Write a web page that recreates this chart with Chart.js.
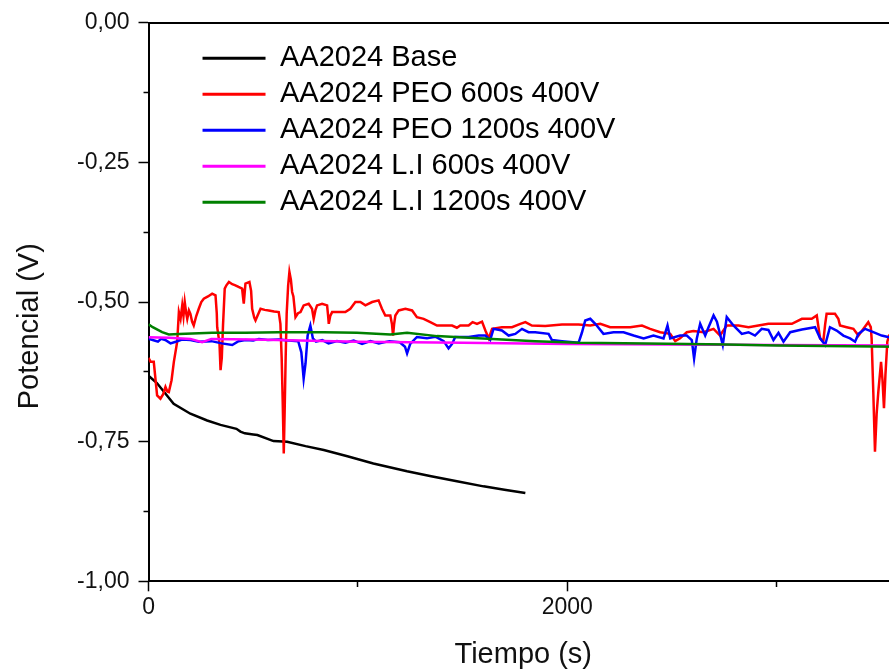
<!DOCTYPE html>
<html>
<head>
<meta charset="utf-8">
<title>Potencial vs Tiempo</title>
<script src="https://cdn.jsdelivr.net/npm/chart.js@4.4.1/dist/chart.umd.min.js"></script>
<style>
  html, body { margin: 0; padding: 0; background: #fff; overflow: hidden; }
  #wrap { position: relative; width: 898px; height: 672px; }
</style>
</head>
<body>
<div id="wrap"><canvas id="chart"></canvas></div>
<script>
// Series labels and colours (Origin default palette)
const seriesNames = [
  'AA2024 Base',
  'AA2024 PEO 600s 400V',
  'AA2024 PEO 1200s 400V',
  'AA2024 L.I 600s 400V',
  'AA2024 L.I 1200s 400V'
];
const seriesColors = ['#000000', '#ff0000', '#0000ff', '#ff00ff', '#008000'];

// Axis ranges and ticks
const xMin = 0, xMax = 3580;
const yMin = -1, yMax = 0;
const xTickValues = [0, 1000, 2000, 3000];
const xLabelStep = 2000;
const yStep = 0.125, yLabelStep = 0.25;

// AA2024 Base
const baseTime = [0, 40, 120, 200, 280, 344, 420, 439, 460, 500, 520, 597, 662, 750, 837, 950, 1074, 1235, 1350, 1473, 1600, 1700, 1800];
const baseV = [-0.632, -0.645, -0.682, -0.700, -0.712, -0.720, -0.727, -0.732, -0.735, -0.737, -0.738, -0.749, -0.750, -0.758, -0.765, -0.776, -0.789, -0.803, -0.812, -0.821, -0.830, -0.836, -0.842];

// AA2024 PEO 600s 400V
const peo600Time = [0, 10, 25, 41, 57, 70, 81, 90, 97, 110, 121, 137, 145, 153, 161, 167, 173, 180, 185, 193, 200, 208, 216, 228, 240, 252, 264, 284, 304, 320, 326, 328, 339, 344, 350, 356, 364, 372, 384, 400, 415, 430, 447, 451, 455, 459, 463, 482, 490, 495, 505, 511, 520, 535, 555, 574, 600, 622, 630, 636, 641, 646, 650, 655, 660, 667, 673, 680, 686, 692, 702, 714, 726, 741, 765, 781, 789, 797, 805, 829, 853, 858, 861, 868, 877, 900, 940, 964, 988, 1012, 1036, 1068, 1099, 1115, 1131, 1155, 1163, 1168, 1173, 1179, 1195, 1227, 1259, 1282, 1314, 1346, 1378, 1402, 1450, 1473, 1489, 1529, 1548, 1569, 1593, 1609, 1625, 1641, 1688, 1736, 1776, 1800, 1831, 1895, 1975, 2054, 2110, 2158, 2205, 2253, 2301, 2357, 2396, 2444, 2492, 2516, 2539, 2571, 2603, 2651, 2699, 2730, 2762, 2818, 2866, 2913, 2961, 3009, 3073, 3121, 3168, 3192, 3200, 3208, 3223, 3232, 3239, 3279, 3295, 3303, 3335, 3367, 3391, 3415, 3438, 3450, 3454, 3462, 3470, 3478, 3486, 3499, 3506, 3513, 3520, 3529, 3537, 3560, 3580];
const peo600V = [-0.600, -0.607, -0.607, -0.667, -0.673, -0.665, -0.652, -0.660, -0.661, -0.640, -0.607, -0.571, -0.518, -0.530, -0.506, -0.525, -0.500, -0.520, -0.530, -0.515, -0.521, -0.535, -0.542, -0.525, -0.512, -0.500, -0.494, -0.490, -0.485, -0.488, -0.520, -0.545, -0.574, -0.622, -0.600, -0.540, -0.476, -0.470, -0.464, -0.468, -0.470, -0.473, -0.476, -0.490, -0.503, -0.485, -0.467, -0.464, -0.480, -0.512, -0.528, -0.533, -0.525, -0.512, -0.514, -0.515, -0.517, -0.518, -0.539, -0.600, -0.679, -0.771, -0.700, -0.600, -0.520, -0.470, -0.446, -0.460, -0.482, -0.490, -0.527, -0.520, -0.518, -0.506, -0.503, -0.512, -0.530, -0.515, -0.506, -0.503, -0.506, -0.525, -0.539, -0.525, -0.518, -0.518, -0.518, -0.512, -0.500, -0.500, -0.506, -0.500, -0.497, -0.512, -0.524, -0.524, -0.540, -0.560, -0.540, -0.524, -0.515, -0.512, -0.515, -0.527, -0.530, -0.536, -0.542, -0.542, -0.542, -0.546, -0.542, -0.542, -0.536, -0.539, -0.535, -0.551, -0.565, -0.548, -0.545, -0.545, -0.539, -0.536, -0.542, -0.543, -0.540, -0.540, -0.542, -0.539, -0.545, -0.545, -0.545, -0.542, -0.548, -0.554, -0.557, -0.570, -0.565, -0.554, -0.552, -0.554, -0.548, -0.560, -0.542, -0.542, -0.545, -0.542, -0.539, -0.539, -0.539, -0.530, -0.530, -0.524, -0.545, -0.565, -0.571, -0.540, -0.521, -0.521, -0.530, -0.542, -0.545, -0.548, -0.560, -0.548, -0.536, -0.545, -0.565, -0.661, -0.768, -0.700, -0.661, -0.607, -0.640, -0.690, -0.630, -0.571, -0.560, -0.555, -0.555];

// AA2024 PEO 1200s 400V
const peo1200Time = [0, 20, 45, 60, 80, 105, 130, 160, 200, 240, 300, 350, 400, 430, 463, 500, 527, 570, 622, 670, 715, 730, 741, 750, 760, 773, 785, 800, 830, 860, 900, 940, 980, 1020, 1060, 1100, 1150, 1200, 1225, 1235, 1250, 1282, 1330, 1370, 1410, 1433, 1450, 1465, 1529, 1577, 1609, 1632, 1648, 1688, 1720, 1752, 1784, 1815, 1847, 1911, 1927, 1975, 2054, 2070, 2086, 2110, 2134, 2173, 2221, 2269, 2317, 2365, 2412, 2460, 2479, 2492, 2539, 2571, 2595, 2606, 2619, 2635, 2659, 2675, 2699, 2715, 2743, 2762, 2794, 2834, 2866, 2897, 2929, 2961, 2985, 3009, 3033, 3065, 3121, 3184, 3208, 3232, 3255, 3287, 3319, 3351, 3375, 3391, 3423, 3462, 3502, 3532, 3580];
const peo1200V = [-0.566, -0.568, -0.571, -0.566, -0.568, -0.574, -0.571, -0.567, -0.568, -0.571, -0.570, -0.574, -0.577, -0.570, -0.568, -0.569, -0.566, -0.568, -0.567, -0.569, -0.570, -0.590, -0.637, -0.610, -0.560, -0.542, -0.565, -0.571, -0.568, -0.574, -0.570, -0.573, -0.569, -0.575, -0.570, -0.574, -0.570, -0.572, -0.580, -0.592, -0.575, -0.5625, -0.565, -0.562, -0.570, -0.583, -0.575, -0.5625, -0.5625, -0.560, -0.560, -0.568, -0.548, -0.551, -0.560, -0.557, -0.548, -0.554, -0.554, -0.557, -0.568, -0.570, -0.573, -0.555, -0.533, -0.530, -0.539, -0.557, -0.554, -0.554, -0.560, -0.565, -0.560, -0.565, -0.542, -0.565, -0.560, -0.560, -0.568, -0.601, -0.565, -0.539, -0.560, -0.545, -0.524, -0.535, -0.577, -0.527, -0.542, -0.557, -0.554, -0.560, -0.548, -0.550, -0.568, -0.555, -0.571, -0.554, -0.549, -0.545, -0.565, -0.577, -0.545, -0.551, -0.560, -0.565, -0.571, -0.557, -0.548, -0.554, -0.560, -0.5625, -0.565];

// AA2024 L.I 600s 400V
const li600Time = [0, 100, 200, 256, 300, 500, 1000, 1500, 2000, 2500, 3000, 3580];
const li600V = [-0.563, -0.564, -0.566, -0.572, -0.566, -0.567, -0.571, -0.573, -0.575, -0.576, -0.577, -0.578];

// AA2024 L.I 1200s 400V
const li1200Time = [0, 20, 65, 97, 145, 304, 463, 622, 837, 996, 1155, 1235, 1378, 1529, 1688, 1847, 2054, 2380, 2762, 3000, 3580];
const li1200V = [-0.540, -0.545, -0.554, -0.558, -0.557, -0.555, -0.555, -0.554, -0.554, -0.555, -0.558, -0.555, -0.561, -0.564, -0.567, -0.570, -0.573, -0.574, -0.576, -0.578, -0.580];

function toPoints(times, values) {
  return times.map((t, i) => ({ x: t, y: values[i] }));
}

function isMultiple(value, step) {
  const r = value / step;
  return Math.abs(r - Math.round(r)) < 1e-6;
}

const allSeries = [
  toPoints(baseTime, baseV),
  toPoints(peo600Time, peo600V),
  toPoints(peo1200Time, peo1200V),
  toPoints(li600Time, li600V),
  toPoints(li1200Time, li1200V)
];

const fontFamily = "'Liberation Sans', Arial, sans-serif";

// Legend sits inside the plot, shifted from the plot's top-left corner
const legendOffset = {
  id: 'legendOffset',
  afterLayout(chart) {
    const lg = chart.legend;
    const area = chart.chartArea;
    const w = lg.width, h = lg.height;
    lg.left = area.left + 47;
    lg.top = area.top + 14;
    lg.right = lg.left + w;
    lg.bottom = lg.top + h;
  }
};

const datasets = allSeries.map((pts, i) => ({
  label: seriesNames[i],
  data: pts,
  borderColor: seriesColors[i],
  backgroundColor: seriesColors[i],
  borderWidth: 2.5,
  pointRadius: 0,
  tension: 0,
  fill: false,
  // Origin draws the last series on top
  order: seriesNames.length - 1 - i
}));

new Chart(document.getElementById('chart'), {
  type: 'line',
  data: { datasets: datasets },
  plugins: [legendOffset],
  options: {
    responsive: true,
    maintainAspectRatio: false,
    animation: false,
    layout: { padding: { top: 19, left: 0, right: 0, bottom: 0 } },
    plugins: {
      tooltip: { enabled: false },
      legend: {
        position: 'chartArea',
        align: 'start',
        labels: {
          font: { family: fontFamily, size: 29 },
          color: '#000',
          boxWidth: 63,
          boxHeight: 3,
          padding: 7,
          sort: (a, b) => a.datasetIndex - b.datasetIndex,
          generateLabels: function(chart) {
            const items = Chart.defaults.plugins.legend.labels.generateLabels(chart);
            items.forEach(it => { it.fillStyle = it.strokeStyle; it.lineWidth = 0; });
            return items;
          }
        }
      }
    },
    scales: {
      x: {
        type: 'linear',
        position: 'bottom',
        min: xMin,
        max: xMax,
        afterBuildTicks: scale => {
          scale.ticks = xTickValues.map(v => ({ value: v }));
        },
        border: { display: true, color: '#000', width: 2 },
        grid: {
          drawOnChartArea: false,
          drawTicks: true,
          tickLength: 10,
          tickWidth: 1.5,
          tickColor: '#000',
          tickBorderDash: ctx => isMultiple(ctx.tick.value, xLabelStep) ? [] : [5, 100]
        },
        ticks: {
          autoSkip: false,
          maxRotation: 0,
          padding: 3,
          color: '#111',
          font: { family: fontFamily, size: 23 },
          callback: function(value) {
            return isMultiple(value, xLabelStep) ? String(value) : '';
          }
        },
        title: {
          display: true,
          text: 'Tiempo (s)',
          color: '#111',
          font: { family: fontFamily, size: 29 },
          padding: { top: 12.3, bottom: 0 }
        }
      },
      xTop: {
        type: 'linear',
        position: 'top',
        min: 0,
        max: 1,
        display: true,
        border: { display: true, color: '#000', width: 2 },
        grid: { drawOnChartArea: false, drawTicks: false },
        ticks: { display: false }
      },
      y: {
        type: 'linear',
        position: 'left',
        min: yMin,
        max: yMax,
        border: { display: true, color: '#000', width: 2 },
        grid: {
          drawOnChartArea: false,
          drawTicks: true,
          tickLength: 10,
          tickWidth: 1.5,
          tickColor: '#000',
          tickBorderDash: ctx => isMultiple(ctx.tick.value, yLabelStep) ? [] : [0, 5, 5, 100]
        },
        ticks: {
          stepSize: yStep,
          autoSkip: false,
          padding: 9,
          color: '#111',
          font: { family: fontFamily, size: 23 },
          callback: function(value) {
            if (!isMultiple(value, yLabelStep)) return '';
            const v = Math.abs(value) < 1e-9 ? 0 : value;
            return v.toFixed(2).replace('.', ',');
          }
        },
        title: {
          display: true,
          // trailing no-break spaces push the title down the axis, as in the original figure
          text: 'Potencial (V)' + '\u00a0'.repeat(6),
          color: '#111',
          font: { family: fontFamily, size: 29 },
          padding: { top: 13, bottom: 20.3 }
        }
      }
    }
  }
});
</script>
</body>
</html>
